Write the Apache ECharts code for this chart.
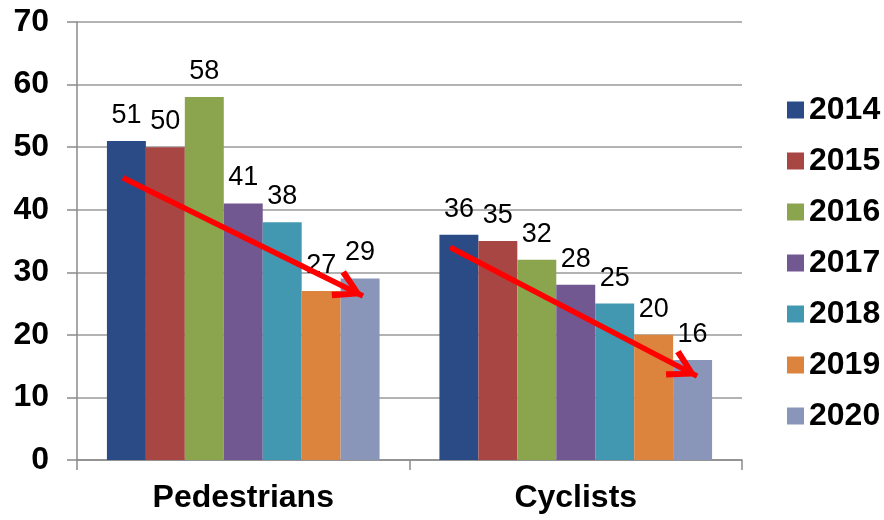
<!DOCTYPE html>
<html>
<head>
<meta charset="utf-8">
<script src="https://cdn.jsdelivr.net/npm/echarts@6/dist/echarts.min.js"></script>
<style>html,body{margin:0;padding:0;background:#fff;}#chart{width:884px;height:520px;}</style>
</head>
<body>
<div id="chart"></div>
<script>
const categories = ['Pedestrians', 'Cyclists'];
const years = ['2014', '2015', '2016', '2017', '2018', '2019', '2020'];
const pedestrians = [51, 50, 58, 41, 38, 27, 29];
const cyclists = [36, 35, 32, 28, 25, 20, 16];
const colors = ['#2A4B86', '#A84643', '#8AA54E', '#725890', '#4298B0', '#DC843E', '#8996B9'];
const yTicks = { min: 0, max: 70, interval: 10 };
// trend arrows: [x (category units), y (value)] start and end
const arrowPed = [[-0.362, 45.1], [0.36, 26.2]];
const arrowCyc = [[0.622, 34.0], [1.365, 13.4]];

const FONT = '"Liberation Sans", Arial, sans-serif';
const chevron = 'path://M11.5,22.5 L23,42.5 L19,45 L11.5,31 L4,45 L0,42.5 Z M11.5,0 L11.55,0.05 L11.45,0.05 Z';

const series = years.map((y, i) => ({
  name: y,
  type: 'bar',
  barGap: '0%',
  barCategoryGap: '18%',
  itemStyle: { color: colors[i] },
  label: {
    show: true,
    position: 'top',
    distance: 12,
    fontFamily: FONT,
    fontSize: 27,
    color: '#000'
  },
  data: [pedestrians[i], cyclists[i]]
}));

series.push({
  type: 'line',
  xAxisIndex: 1,
  yAxisIndex: 0,
  data: [],
  z: 20,
  silent: true,
  markLine: {
    silent: true,
    animation: false,
    symbol: ['none', chevron],
    symbolSize: [31, 60],
    label: { show: false },
    lineStyle: { color: '#FF0000', width: 5.5, type: 'solid' },
    emphasis: { disabled: true },
    data: [
      [{ coord: arrowPed[0] }, { coord: arrowPed[1] }],
      [{ coord: arrowCyc[0] }, { coord: arrowCyc[1] }]
    ]
  }
});

const chart = echarts.init(document.getElementById('chart'), null, { renderer: 'canvas' });
chart.setOption({
  animation: false,
  backgroundColor: '#fff',
  grid: { left: 77, right: 142, top: 22, bottom: 60, containLabel: false },
  legend: {
    orient: 'vertical',
    left: 782,
    top: 89,
    itemWidth: 17,
    itemHeight: 17,
    itemGap: 19,
    icon: 'rect',
    data: years,
    textStyle: { fontFamily: FONT, fontSize: 32, fontWeight: 'bold', color: '#000', lineHeight: 32 }
  },
  xAxis: [
    {
      type: 'category',
      data: categories,
      axisLine: { onZero: false, lineStyle: { color: '#8a8a8a', width: 1.5 } },
      axisTick: { show: true, length: 10, lineStyle: { color: '#8a8a8a', width: 1.5 } },
      axisLabel: { fontFamily: FONT, fontSize: 32, fontWeight: 'bold', color: '#000', margin: 22 }
    },
    {
      type: 'value',
      min: -0.5,
      max: 1.5,
      show: false,
      axisLine: { show: false, onZero: false },
      splitLine: { show: false }
    }
  ],
  yAxis: {
    type: 'value',
    min: yTicks.min,
    max: yTicks.max,
    interval: yTicks.interval,
    axisLine: { show: true, onZero: false, lineStyle: { color: '#8a8a8a', width: 1.5 } },
    axisTick: { show: true, length: 10, lineStyle: { color: '#8a8a8a', width: 1.5 } },
    splitLine: { lineStyle: { color: '#9a9a9a', width: 1.5 } },
    axisLabel: { fontFamily: FONT, fontSize: 32, fontWeight: 'bold', color: '#000', margin: 28 }
  },
  series: series
});
</script>
</body>
</html>
